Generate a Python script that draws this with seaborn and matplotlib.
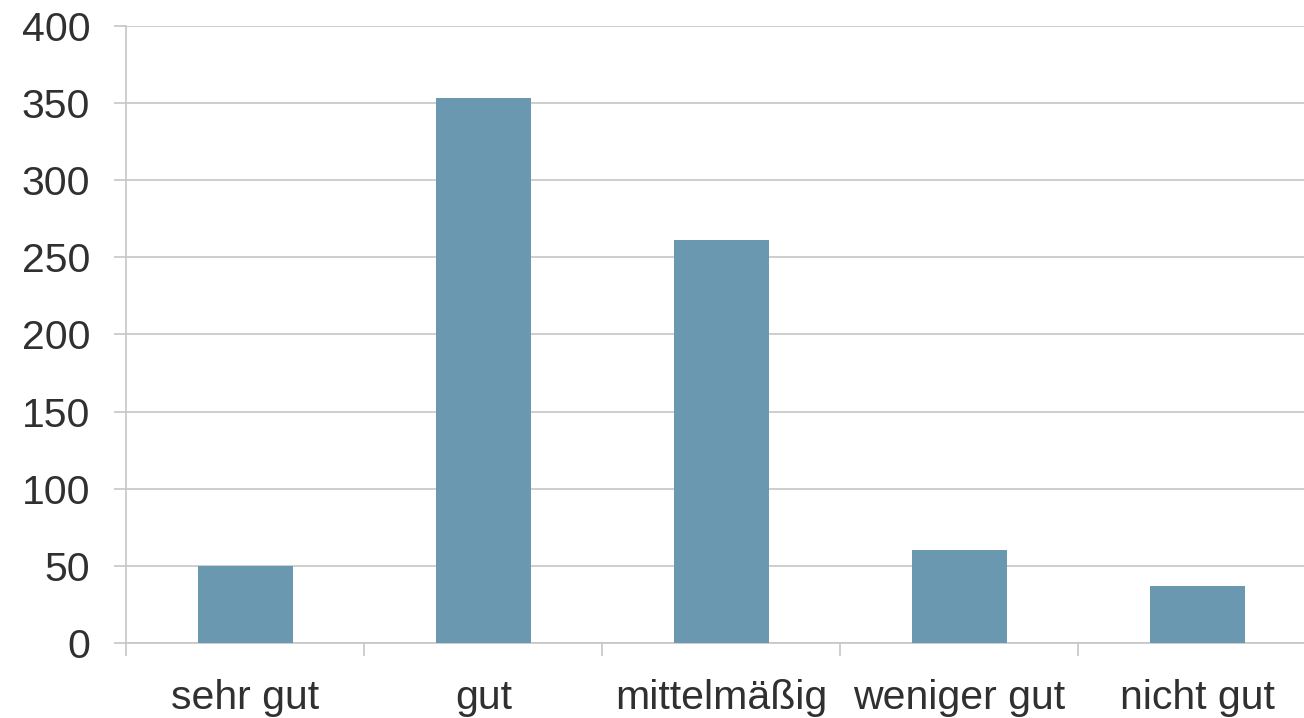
import matplotlib
matplotlib.use("Agg")
import matplotlib.pyplot as plt
import seaborn as sns
import pandas as pd
import numpy as np

categories = ["sehr gut", "gut", "mittelmäßig", "weniger gut", "nicht gut"]
counts = [50, 353, 261, 60, 37]
y_ticks = [0, 50, 100, 150, 200, 250, 300, 350, 400]

sns.set_style("white")
plt.rcParams["font.family"] = ["Liberation Sans", "DejaVu Sans"]

df = pd.DataFrame({"Bewertung": categories, "Anzahl": counts})

fig = plt.figure(figsize=(13.04, 7.18), dpi=100)
ax = fig.add_axes([0.0969, 0.1045, 0.9124, 0.8593])

sns.barplot(data=df, x="Bewertung", y="Anzahl", color="#6a98b0",
            saturation=1, width=0.4, edgecolor="none", ax=ax, zorder=3)

grid_c = "#c6c6c6"
text_c = "#303030"
ax.set_ylim(0, 400)
ax.set_xlim(-0.5, len(categories) - 0.5)
ax.set_yticks(y_ticks)
ax.set_yticklabels([str(v) for v in y_ticks])
ax.yaxis.grid(True, color=grid_c, linewidth=1.2, zorder=0)
ax.set_axisbelow(True)

# category boundaries carry the tick marks, labels sit at centres
ax.set_xticks(np.arange(len(categories)))
ax.set_xticklabels(categories)
ax.set_xticks(np.arange(len(categories)) - 0.5, minor=True)
ax.tick_params(axis="x", which="major", length=0, pad=26, labelsize=29.5,
               labelcolor=text_c)
ax.tick_params(axis="x", which="minor", length=9, width=1.2, color=grid_c,
               direction="out")
ax.tick_params(axis="y", which="major", length=9, width=1.2, color=grid_c,
               direction="out", pad=17, labelsize=29.5, labelcolor=text_c)
ax.yaxis.set_ticks_position("left")
ax.xaxis.set_ticks_position("bottom")

for side in ["top", "right"]:
    ax.spines[side].set_visible(False)
ax.spines["left"].set_color(grid_c)
ax.spines["left"].set_linewidth(1.2)
ax.spines["bottom"].set_color(grid_c)
ax.spines["bottom"].set_linewidth(1.2)

ax.set_xlabel("")
ax.set_ylabel("")

fig.savefig("out.png", dpi=100)
